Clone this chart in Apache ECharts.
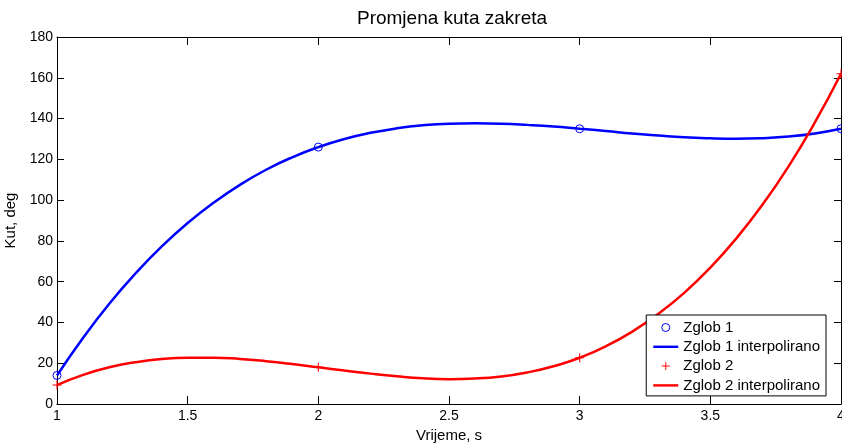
<!DOCTYPE html>
<html>
<head>
<meta charset="utf-8">
<script src="https://cdn.jsdelivr.net/npm/echarts@6/dist/echarts.min.js"></script>
<style>
  html, body { margin: 0; padding: 0; background: #fff; }
  #main { width: 842px; height: 443px; }
</style>
</head>
<body>
<div id="main"></div>
<script>
const knotTime = [1, 2, 3, 4]
const zglob1 = [14, 126, 135, 135]
const zglob2 = [9.3, 18, 22.7, 162]

// interpolated curves, every 0.1 s
const fineTime = [1.0, 1.1, 1.2, 1.3, 1.4, 1.5, 1.6, 1.7, 1.8, 1.9,
  2.0, 2.1, 2.2, 2.3, 2.4, 2.5, 2.6, 2.7, 2.8, 2.9,
  3.0, 3.1, 3.2, 3.3, 3.4, 3.5, 3.6, 3.7, 3.8, 3.9, 4.0]
const zglob1Interp = [14, 32.5, 49.2, 64.0, 77.2, 88.8, 98.8, 107.5, 114.9, 121.0,
  126, 130.0, 133.0, 135.2, 136.7, 137.5, 137.7, 137.5, 136.9, 136.1,
  135, 133.9, 132.7, 131.7, 130.8, 130.3, 130.1, 130.4, 131.2, 132.7, 135]
const zglob2Interp = [9.3, 14.3, 18.0, 20.5, 22.1, 22.7, 22.7, 22.1, 21.0, 19.6,
  18, 16.4, 14.9, 13.6, 12.6, 12.2, 12.5, 13.5, 15.5, 18.5,
  22.7, 28.3, 35.4, 44.1, 54.5, 66.9, 81.3, 97.8, 116.7, 138.1, 162]

const yTicks = { min: 0, max: 180, step: 20 }
const xTicks = { min: 1, max: 4, step: 0.5 }

const pair = (xs, ys) => xs.map((x, i) => [x, ys[i]])

const FONT = 'Liberation Sans'
const PLUS = 'path://M0,4.4H10V5.6H0Z M4.4,0H5.6V10H4.4Z'
const BAR = 'path://M0,0H27V2.6H0Z' // legend line swatch

const chart = echarts.init(document.getElementById('main'))

const axisCommon = {
  axisLine: { show: true, onZero: false, lineStyle: { color: '#000', width: 1 } },
  splitLine: { show: false }
}

const option = {
  animation: false,
  backgroundColor: '#fff',
  title: {
    text: 'Promjena kuta zakreta',
    left: 447,
    textAlign: 'center',
    top: 4,
    textStyle: { fontFamily: FONT, fontSize: 19, fontWeight: 'normal', color: '#000' }
  },
  grid: { left: 57, right: 1, top: 37, bottom: 39, outerBoundsMode: 'none', containLabel: false },
  legend: {
    orient: 'vertical',
    right: 16,
    top: 315,
    padding: [5, 6, 3, 7],
    itemWidth: 25,
    itemHeight: 8,
    itemGap: 4.3,
    borderColor: '#000',
    borderWidth: 1,
    backgroundColor: '#fff',
    textStyle: { fontFamily: FONT, fontSize: 15, lineHeight: 15, color: '#000' },
    data: [
      { name: 'Zglob 1', icon: 'circle', itemStyle: { borderWidth: 1 } },
      { name: 'Zglob 1 interpolirano', icon: BAR },
      { name: 'Zglob 2', icon: PLUS },
      { name: 'Zglob 2 interpolirano', icon: BAR }
    ]
  },
  xAxis: [
    Object.assign({
      type: 'value',
      min: xTicks.min,
      max: xTicks.max,
      interval: xTicks.step,
      position: 'bottom',
      name: 'Vrijeme, s',
      nameLocation: 'middle',
      nameGap: 19,
      nameTextStyle: { fontFamily: FONT, fontSize: 15, color: '#000', verticalAlign: 'top' },
      axisTick: { show: true, inside: true, length: 8, lineStyle: { color: '#000' } },
      axisLabel: { fontFamily: FONT, fontSize: 14, color: '#000', margin: 5 }
    }, axisCommon),
    Object.assign({
      type: 'value',
      min: xTicks.min,
      max: xTicks.max,
      interval: xTicks.step,
      position: 'top',
      axisTick: { show: true, inside: true, length: 8, lineStyle: { color: '#000' } },
      axisLabel: { show: false }
    }, axisCommon)
  ],
  yAxis: [
    Object.assign({
      type: 'value',
      min: yTicks.min,
      max: yTicks.max,
      interval: yTicks.step,
      position: 'left',
      name: 'Kut, deg',
      nameLocation: 'middle',
      nameGap: 33,
      nameTextStyle: { fontFamily: FONT, fontSize: 15, color: '#000' },
      axisTick: { show: true, inside: true, length: 7, lineStyle: { color: '#000' } },
      axisLabel: { fontFamily: FONT, fontSize: 14, color: '#000', margin: 4 }
    }, axisCommon),
    Object.assign({
      type: 'value',
      min: yTicks.min,
      max: yTicks.max,
      interval: yTicks.step,
      position: 'right',
      axisTick: { show: true, inside: true, length: 7, lineStyle: { color: '#000' } },
      axisLabel: { show: false }
    }, axisCommon)
  ],
  series: [
    {
      name: 'Zglob 1',
      type: 'scatter',
      symbol: 'circle',
      symbolSize: 8,
      z: 5,
      itemStyle: { color: 'rgba(0,0,255,0)', borderColor: '#0000ff', borderWidth: 1, opacity: 1 },
      data: pair(knotTime, zglob1)
    },
    {
      name: 'Zglob 1 interpolirano',
      type: 'line',
      symbol: 'none',
      smooth: true,
      z: 3,
      lineStyle: { color: '#0000ff', width: 2.5 },
      itemStyle: { color: '#0000ff' },
      data: pair(fineTime, zglob1Interp)
    },
    {
      name: 'Zglob 2',
      type: 'scatter',
      symbol: PLUS,
      symbolSize: 9,
      z: 5,
      itemStyle: { color: '#ff0000', opacity: 1 },
      data: pair(knotTime, zglob2)
    },
    {
      name: 'Zglob 2 interpolirano',
      type: 'line',
      symbol: 'none',
      smooth: true,
      z: 3,
      lineStyle: { color: '#ff0000', width: 2.5 },
      itemStyle: { color: '#ff0000' },
      data: pair(fineTime, zglob2Interp)
    }
  ]
}

chart.setOption(option)
</script>
</body>
</html>
